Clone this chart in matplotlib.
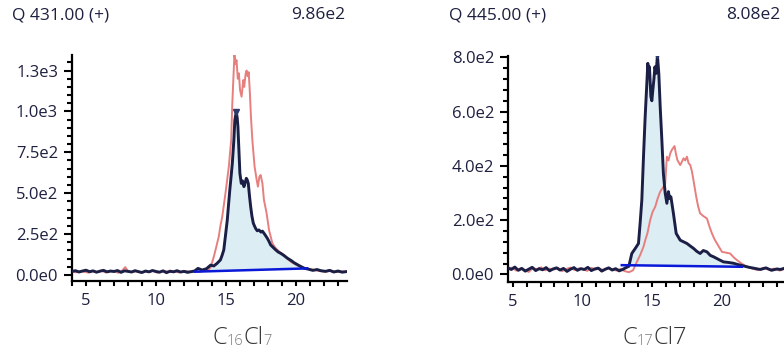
import numpy as np
import matplotlib.pyplot as plt
from matplotlib.ticker import MultipleLocator

plt.rcParams['font.family'] = ['Open Sans', 'DejaVu Sans']

# ---- left panel: Q 431.00 (+) ----
L_navy_t = [4.0, 4.25, 4.5, 4.75, 5.0, 5.25, 5.5, 5.75, 6.0, 6.25, 6.5, 6.75, 7.0, 7.25, 7.5,
            7.75, 8.0, 8.25, 8.5, 8.75, 9.0, 9.25, 9.5, 9.75, 10.0, 10.25, 10.5, 10.75, 11.0,
            11.25, 11.5, 11.75, 12.0, 12.25, 12.5, 12.75,
            13.0, 13.3, 13.6, 13.9, 14.13, 14.35, 14.6, 14.72, 14.84, 14.96, 15.09, 15.18, 15.27,
            15.36, 15.45, 15.56, 15.63, 15.73, 15.8, 15.85, 15.92, 15.99, 16.09, 16.18, 16.28,
            16.37, 16.45, 16.52, 16.59, 16.68, 16.76, 16.85, 16.95, 17.03, 17.11, 17.23, 17.35,
            17.5, 17.6, 17.71, 17.83, 17.95, 18.07, 18.19, 18.37, 18.55, 18.73, 18.91, 19.15,
            19.39, 19.62, 19.86, 20.2, 20.58, 20.9, 21.2, 21.5, 21.77, 22.1, 22.4, 22.7, 23.0,
            23.3, 23.64]
L_navy_v = [22, 26, 18, 24, 29, 20, 25, 17, 23, 28, 19, 24, 21, 27, 16, 25, 22, 18, 26, 20,
            15, 24, 19, 27, 21, 17, 25, 14, 23, 19, 26, 18, 22, 16, 20, 24,
            40, 30, 38, 60, 55, 70, 92, 120, 153, 240, 336, 430, 520, 600, 683, 825, 947, 998,
            960, 906, 764, 622, 560, 575, 540, 565, 591, 580, 560, 480, 418, 360, 316, 300, 285,
            270, 275, 262, 268, 255, 240, 224, 205, 183, 168, 153, 140, 132, 118, 102, 90, 75,
            58, 41, 35, 28, 33, 26, 22, 28, 18, 24, 17, 21]
L_pink_t = [4.0, 4.3, 4.6, 4.9, 5.2, 5.5, 5.8, 6.1, 6.4, 6.7, 7.0, 7.3, 7.6, 7.8, 8.0, 8.3,
            8.6, 8.9, 9.2, 9.5, 9.8, 10.1, 10.4, 10.7, 11.0, 11.3, 11.6, 11.9, 12.2, 12.5, 12.8,
            13.1, 13.4, 13.7,
            13.9, 14.13, 14.3, 14.48, 14.6, 14.73, 14.85, 14.96, 15.08, 15.2, 15.3, 15.37, 15.44,
            15.51, 15.6, 15.68, 15.75, 15.84, 15.92, 16.0, 16.11, 16.23, 16.3, 16.4, 16.47,
            16.55, 16.62, 16.7, 16.78, 16.88, 17.04, 17.19, 17.28, 17.38, 17.47, 17.6, 17.71,
            17.9, 18.07, 18.31, 18.5, 18.67, 18.9, 19.14, 19.4, 19.62, 20.0, 20.34, 20.8, 21.3,
            21.7, 22.1, 22.5, 22.9, 23.3, 23.64]
L_pink_v = [20, 16, 24, 19, 14, 23, 18, 27, 15, 21, 25, 13, 28, 48, 22, 17, 24, 15, 21, 18,
            26, 14, 20, 23, 17, 22, 16, 19, 23, 18, 22, 19, 26, 30,
            45, 112, 170, 234, 300, 356, 430, 499, 580, 662, 760, 825, 1029, 1172, 1345, 1290,
            1314, 1200, 1233, 1131, 1090, 1192, 1150, 1230, 1250, 1215, 1240, 1120, 968, 825,
            662, 581, 540, 600, 611, 560, 458, 377, 275, 194, 168, 153, 135, 122, 98, 81, 62,
            51, 38, 31, 24, 20, 26, 18, 22, 19]
L_base_t = [12.8, 20.8]
L_base_v = [20, 40]
L_apex = (15.73, 998)

# ---- right panel: Q 445.00 (+) ----
R_navy_t = [4.66, 4.9, 5.15, 5.4, 5.65, 5.9, 6.15, 6.4, 6.65, 6.9, 7.15, 7.4, 7.65, 7.9, 8.15,
            8.4, 8.65, 8.9, 9.15, 9.4, 9.65, 9.9, 10.15, 10.4, 10.65, 10.9, 11.15, 11.4, 11.65,
            11.9, 12.15, 12.4, 12.65, 12.9, 13.15, 13.35,
            13.56, 13.8, 14.04, 14.16, 14.28, 14.4, 14.52, 14.64, 14.71, 14.78, 14.83, 14.93,
            15.0, 15.07, 15.15, 15.22, 15.31, 15.4, 15.5, 15.6, 15.72, 15.83, 15.96, 16.08,
            16.19, 16.28, 16.37, 16.55, 16.75, 17.04, 17.28, 17.52, 17.75, 17.99, 18.23, 18.47,
            18.7, 18.96, 19.2, 19.43, 19.8, 20.15, 20.5, 20.87, 21.2, 21.6, 22.0, 22.4, 22.8,
            23.2, 23.6, 24.0, 24.24, 24.5]
R_navy_v = [24, 18, 27, 15, 22, 12, 19, 26, 14, 21, 17, 25, 13, 20, 24, 16, 22, 11, 19, 25,
            15, 21, 18, 26, 14, 20, 23, 12, 19, 24, 16, 21, 13, 18, 25, 30,
            77, 95, 114, 190, 274, 434, 581, 704, 778, 740, 765, 655, 640, 679, 720, 765, 741,
            808, 741, 618, 495, 372, 299, 262, 305, 280, 286, 225, 151, 126, 120, 114, 105, 96,
            85, 77, 88, 83, 70, 65, 55, 46, 44, 41, 36, 31, 26, 22, 18, 24, 15, 20, 18, 22]
R_pink_t = [4.66, 4.95, 5.25, 5.55, 5.85, 6.15, 6.45, 6.75, 7.05, 7.35, 7.65, 7.95, 8.25, 8.55,
            8.85, 9.15, 9.45, 9.75, 10.05, 10.35, 10.65, 10.95, 11.25, 11.55, 11.85, 12.15,
            12.45, 12.75, 13.05, 13.35, 13.65,
            13.92, 14.15, 14.4, 14.55, 14.68, 14.88, 15.05, 15.24, 15.42, 15.6, 15.8, 15.96,
            16.08, 16.2, 16.32, 16.45, 16.63, 16.75, 16.84, 17.04, 17.16, 17.28, 17.4, 17.52,
            17.64, 17.76, 17.88, 17.99, 18.19, 18.33, 18.47, 18.7, 18.96, 19.15, 19.32, 19.5,
            19.68, 20.04, 20.35, 20.63, 20.9, 21.11, 21.45, 21.83, 22.2, 22.6, 23.0, 23.4, 23.8,
            24.2, 24.5]
R_pink_v = [20, 25, 14, 22, 17, 9, 23, 19, 26, 15, 21, 18, 24, 12, 20, 25, 16, 22, 19, 13,
            24, 18, 21, 15, 23, 19, 14, 20, 12, 8, 15,
            46, 70, 102, 130, 151, 200, 230, 249, 280, 305, 320, 335, 434, 420, 446, 460, 473,
            440, 421, 403, 415, 428, 420, 434, 410, 403, 380, 348, 286, 250, 225, 215, 206, 175,
            151, 130, 114, 83, 80, 77, 62, 53, 40, 28, 22, 16, 24, 18, 21, 14, 20]
R_base_t = [12.84, 21.47]
R_base_v = [34, 28]
R_apex = (15.4, 808)

titles = ['Q 431.00 (+)', 'Q 445.00 (+)']
max_labels = ['9.86e2', '8.08e2']
L_yticks = [0, 250, 500, 750, 1000, 1250]
L_ylabels = ['0.0e0', '2.5e2', '5.0e2', '7.5e2', '1.0e3', '1.3e3']
R_yticks = [0, 200, 400, 600, 800]
R_ylabels = ['0.0e0', '2.0e2', '4.0e2', '6.0e2', '8.0e2']
xticks = [5, 10, 15, 20]

NAVY = '#1b1e45'
PINK = '#e77f7f'
FILL = '#dcedf4'
BASE = '#0a18d8'
TXT = '#1e2040'

fig = plt.figure(figsize=(7.84, 3.52), dpi=100)
axL = fig.add_axes([72/784, 71/352, 275/784, 226/352])
axR = fig.add_axes([508/784, 70.3/352, 276/784, 225.7/352])

panels = [
    (axL, L_navy_t, L_navy_v, L_pink_t, L_pink_v, L_base_t, L_base_v, L_apex,
     (4.0, 23.64), (-37, 1345), L_yticks, L_ylabels, 50),
    (axR, R_navy_t, R_navy_v, R_pink_t, R_pink_v, R_base_t, R_base_v, R_apex,
     (4.66, 24.5), (-27, 805), R_yticks, R_ylabels, 40),
]

for ax, nt, nv, pt, pv, bt, bv, apex, xl, yl, yt, ylab, ymin in panels:
    nt = np.array(nt)
    nv = np.array(nv)
    m = (nt >= bt[0]) & (nt <= bt[1])
    ax.fill_between(nt[m], np.interp(nt[m], bt, bv), nv[m], color=FILL, lw=0, zorder=1)
    ax.plot(pt, pv, color=PINK, lw=1.4, zorder=2)
    ax.plot(nt, nv, color=NAVY, lw=2.1, zorder=3)
    ax.plot(bt, bv, color=BASE, lw=1.8, zorder=4)
    ax.plot(apex[0], apex[1], marker='v', ms=5, color='#2c3b6e', zorder=5)

    ax.set_xlim(*xl)
    ax.set_ylim(*yl)
    ax.set_xticks(xticks)
    ax.set_yticks(yt)
    ax.set_yticklabels(ylab)
    ax.xaxis.set_minor_locator(MultipleLocator(1))
    ax.yaxis.set_minor_locator(MultipleLocator(ymin))
    for s in ['top', 'right']:
        ax.spines[s].set_visible(False)
    for s in ['left', 'bottom']:
        ax.spines[s].set_linewidth(1.6)
    ax.tick_params(axis='y', which='major', length=6, width=1.5, pad=4, labelsize=12, labelcolor=TXT)
    ax.tick_params(axis='y', which='minor', length=3.5, width=1.5)
    ax.tick_params(axis='x', which='both', length=3.5, width=1.5, pad=5, labelsize=12, labelcolor=TXT)

# header texts
fig.text(12/784, 1 - 15/352, titles[0], fontsize=12.5, color=TXT, va='center', ha='left')
fig.text(345/784, 1 - 15/352, max_labels[0], fontsize=12.5, color=TXT, va='center', ha='right')
fig.text(449/784, 1 - 15/352, titles[1], fontsize=12.5, color=TXT, va='center', ha='left')
fig.text(780/784, 1 - 15/352, max_labels[1], fontsize=12.5, color=TXT, va='center', ha='right')


# x-axis compound labels placed piece by piece
def draw_label(x0, parts):
    r = fig.canvas.get_renderer()
    x = x0
    for txt, sub in parts:
        fs = 10.5 if sub else 17
        col = '#7a7a7a' if sub else '#333333'
        y = 1 - (345 if sub else 344) / 352
        t = fig.text(x, y, txt, fontsize=fs, color=col, fontweight='light',
                     va='baseline', ha='left')
        bb = t.get_window_extent(renderer=r)
        x += bb.width / fig.bbox.width


draw_label(212/784, [('C', False), ('16', True), ('Cl', False), ('7', True)])
draw_label(622/784, [('C', False), ('17', True), ('Cl7', False)])

fig.savefig('out.png', dpi=100)
